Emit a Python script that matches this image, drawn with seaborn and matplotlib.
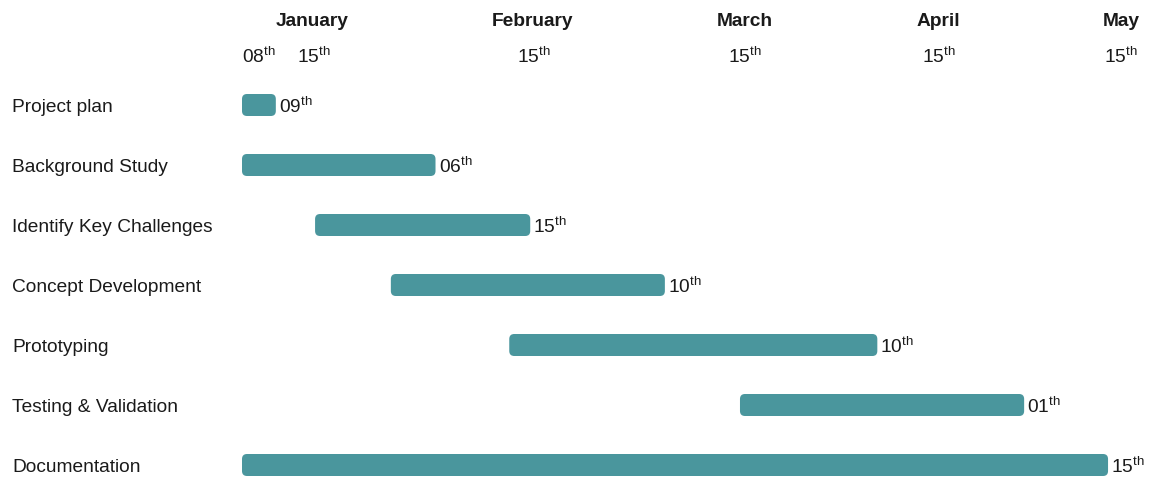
import matplotlib
matplotlib.use("Agg")
import matplotlib.pyplot as plt
import matplotlib.transforms as mtransforms
from matplotlib.patches import FancyBboxPatch
import seaborn as sns
import pandas as pd

# ---- data (day-of-year, 2024) ----
tasks = ["Project plan", "Background Study", "Identify Key Challenges",
         "Concept Development", "Prototyping", "Testing & Validation", "Documentation"]
start_day = [8.0, 8.0, 18.8, 30.0, 47.5, 81.6, 8.0]
end_day = [13.0, 36.6, 50.6, 70.5, 101.9, 123.6, 136.0]
end_labels = ["09", "06", "15", "10", "10", "01", "15"]
tick_days = [8.0, 16.1, 48.6, 79.8, 108.5, 135.4]
tick_labels = ["08", "15", "15", "15", "15", "15"]
months = ["January", "February", "March", "April", "May"]
month_days = [18.3, 51.0, 82.3, 110.9, 137.9]

BAR = "#4a969d"
FS = 13.8
TXT = "#1a1a1a"
PX_PER_DAY = 6.766
PX_PER_ROW = 60.0

sns.set_theme(style="white")
plt.rcParams["font.family"] = ["Liberation Sans", "DejaVu Sans"]
plt.rcParams["mathtext.fontset"] = "custom"
plt.rcParams["mathtext.rm"] = "Liberation Sans"
plt.rcParams["mathtext.it"] = "Liberation Sans:italic"
plt.rcParams["mathtext.bf"] = "Liberation Sans:bold"

fig = plt.figure(figsize=(11.51, 4.8), dpi=100)
fig.patch.set_facecolor("white")
ax = fig.add_axes([0, 0, 1, 1])

df = pd.DataFrame({"task": tasks,
                   "duration": [e - s for s, e in zip(start_day, end_day)]})
sns.barplot(data=df, x="duration", y="task", order=tasks, orient="h",
            color=BAR, saturation=1, width=22 / PX_PER_ROW, ax=ax)

# shift bars to their start and round the corners
bars = list(ax.patches)
for bar, s in zip(bars, start_day):
    y, h, w = bar.get_y(), bar.get_height(), bar.get_width()
    bar.remove()
    fb = FancyBboxPatch((s, y), w, h,
                        boxstyle="round,pad=0,rounding_size=%.3f" % (5.0 / PX_PER_DAY),
                        mutation_aspect=PX_PER_DAY / PX_PER_ROW,
                        fc=BAR, ec="none", zorder=2)
    ax.add_patch(fb)

x0 = 8 - 242 / PX_PER_DAY
x1 = 8 + (1151 - 242) / PX_PER_DAY
ax.set_xlim(x0, x1)
ax.set_ylim(6.25, -1.75)
ax.set_xticks([])
ax.set_yticks([])
ax.set_xlabel("")
ax.set_ylabel("")
for sp in ax.spines.values():
    sp.set_visible(False)

# end-date labels
for i, (e, lab) in enumerate(zip(end_day, end_labels)):
    ax.annotate(lab + r"$^{\mathrm{th}}$", xy=(e, i), xytext=(3, 0),
                textcoords="offset pixels", ha="left", va="center_baseline",
                fontsize=FS, color=TXT)

# task names
tr = mtransforms.blended_transform_factory(fig.transFigure, ax.transData)
for i, t in enumerate(tasks):
    ax.text(12 / 1151, i, t, transform=tr, ha="left", va="center_baseline",
            fontsize=FS, color=TXT)

# day ticks
day_y = (55 - 105) / PX_PER_ROW
for d, lab in zip(tick_days, tick_labels):
    ax.text(d, day_y, lab + r"$^{\mathrm{th}}$", ha="left", va="center_baseline",
            fontsize=FS, color=TXT)

# month labels
month_y = (19 - 105) / PX_PER_ROW
for d, m in zip(month_days, months):
    ax.text(d, month_y, m, ha="center", va="center_baseline",
            fontsize=FS, fontweight="bold", color=TXT)

fig.savefig("out.png", dpi=100, facecolor="white")
